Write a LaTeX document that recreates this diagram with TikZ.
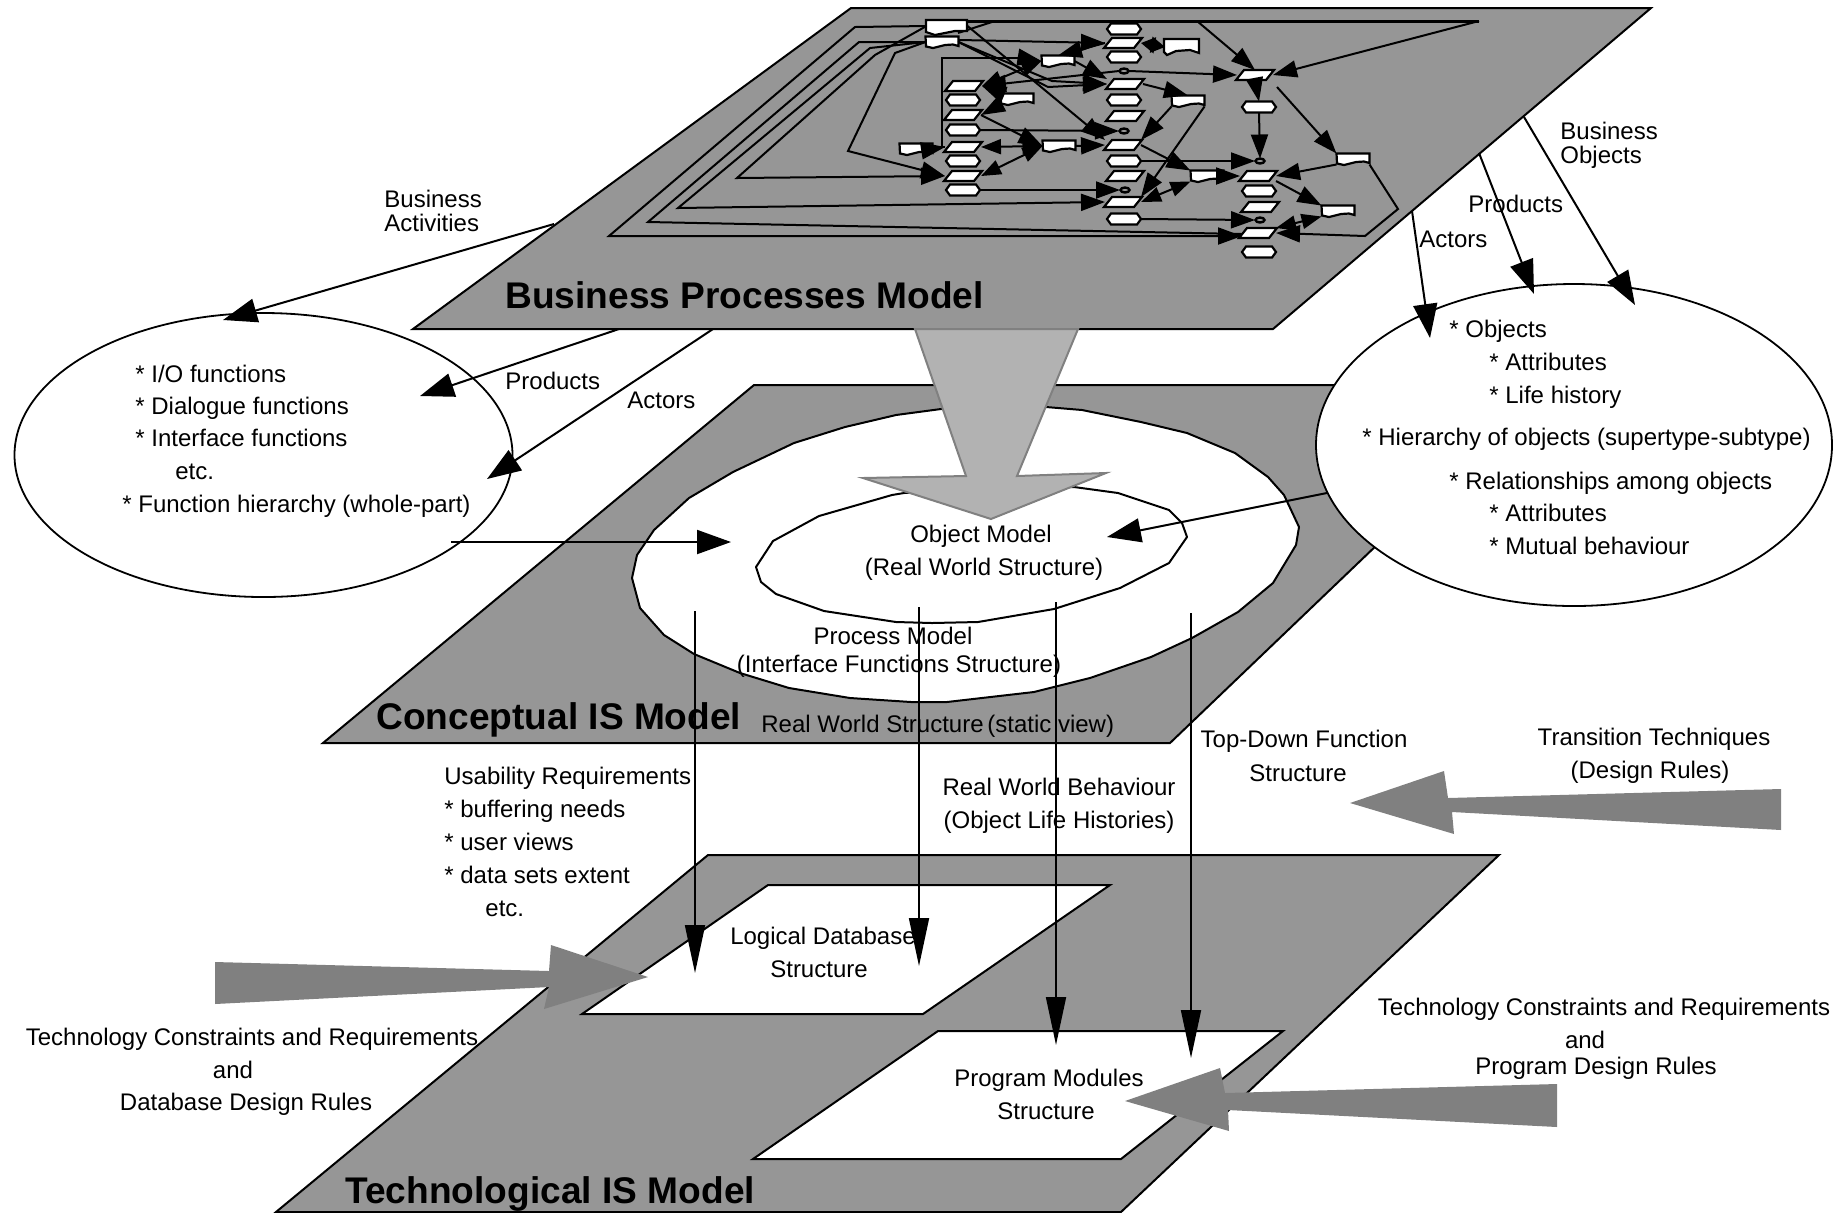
\documentclass[tikz,border=0pt]{standalone}
\usepackage{fontspec}
\setmainfont{Liberation Sans}
\usetikzlibrary{arrows.meta,shapes.geometric}
\definecolor{planegray}{HTML}{969696}
\definecolor{bigfill}{HTML}{B2B2B2}
\definecolor{bigline}{HTML}{808080}
\definecolor{pointer}{HTML}{808080}
\tikzset{
  plane/.style={draw=black,line width=1pt,fill=planegray},
  whitearea/.style={draw=black,line width=1pt,fill=white},
  jag/.style={draw=black,line width=1pt,fill=white,line join=round},
  oval/.style={ellipse,draw=black,line width=.9pt,fill=white,inner sep=0pt},
  anchorbox/.style={inner sep=0pt,outer sep=0pt,rectangle},
  flowshape/.style={draw=black,line width=1.1pt,fill=white},
  flow/.style={draw=black,line width=1pt,-{Triangle[length=12pt,width=8.5pt]}},
  flowb/.style={draw=black,line width=1pt,{Triangle[length=10pt,width=7.5pt]}-{Triangle[length=10pt,width=7.5pt]}},
  flows/.style={draw=black,line width=1pt,{Triangle[length=7pt,width=8pt]}-{Triangle[length=7pt,width=8pt]}},
  link/.style={draw=black,line width=1pt},
  toprail/.style={draw=black,line width=1.5pt},
  note/.style={draw=black,line width=1pt,-{Triangle[length=17pt,width=12pt]}},
  drop/.style={draw=black,line width=.9pt,-{Triangle[length=24pt,width=10pt]}},
  pointerarrow/.style={fill=pointer,draw=none},
  txt/.style={inner sep=0pt,text height=8.6pt,text depth=0pt,font=\fontsize{12}{14}\selectfont},
  ltxt/.style={txt,anchor=west},
  title/.style={inner sep=0pt,anchor=west,font=\fontsize{18.55}{20}\selectfont\bfseries},
}
\newcommand\fnH[3]{\node[anchorbox,minimum width=17pt,minimum height=5.5pt] (#1) at (#2,#3) {};
  \draw[flowshape,shift={(#2,#3)}] (-17,0)--(-13,-5.5)--(13,-5.5)--(17,0)--(13,5.5)--(-13,5.5)--cycle;}
\newcommand\evP[3]{\node[anchorbox,minimum width=18pt,minimum height=5pt] (#1) at (#2,#3) {};
  \draw[flowshape,shift={(#2,#3)}] (-19,5)--(-11,-5)--(19,-5)--(11,5)--cycle;}
\newcommand\docD[3]{\node[anchorbox,minimum width=16.5pt,minimum height=5.5pt] (#1) at (#2,#3) {};
  \draw[flowshape,shift={(#2,#3)}] (-16.5,-5.5)--(16.5,-5.5)--(16.5,4)--(11,2.5)--(3,3)--(-9,6)--(-16,4.5)--cycle;}
\newcommand\dotC[3]{\node[anchorbox,minimum width=5pt,minimum height=2.5pt] (#1) at (#2,#3) {};
  \draw[draw=black,line width=1.2pt,fill=planegray,shift={(#2,#3)}] (0,0) ellipse [x radius=4.5,y radius=2.5];}
\begin{document}
\begin{tikzpicture}[x=0.5pt,y=-0.5pt]
\useasboundingbox (0,0) rectangle (1841,1212);
% Business plane
\draw[plane] (851,8) -- (1651,8) -- (1273,329) -- (413,329) -- cycle;
\coordinate (farR) at (1479,21);
\coordinate (topA) at (958,33);
% Flow connectors behind the nodes
\node[anchorbox,minimum width=20.5pt,minimum height=5.5pt] (da) at (947,26) {};
\node[anchorbox,minimum width=16.5pt,minimum height=5.5pt] (db) at (942,42) {};
\draw[flow] (da.west) -- (855,27) -- (609,236) -- (1242,236);
\draw[link] (db.west) -- (859,42) -- (648,222) -- (1242,234);
\draw[link] (topA) -- (995,21);
\draw[toprail] (948,21) -- (farR);
% flow nodes
\draw[flowshape] (926,20)--(967,20)--(967,31)--(955,31)--(935,35)--(926,32)--cycle;
\docD{db0}{942}{42}
\fnH{h1}{1124}{29} \evP{p1}{1123}{43} \fnH{h2}{1124}{57} \dotC{c1}{1124}{71}
\evP{p2}{1125}{84} \fnH{h3}{1124}{100} \evP{p3}{1125}{116} \dotC{c2}{1124}{131}
\evP{p4}{1123}{145} \fnH{h4}{1124}{161} \evP{p5}{1125}{176} \dotC{c3}{1125}{190}
\evP{p6}{1123}{202} \fnH{h5}{1124}{219}
\evP{q1}{1255}{75} \fnH{k1}{1259}{107} \dotC{c4}{1260}{161} \evP{q2}{1258}{176}
\fnH{k2}{1259}{191} \evP{q3}{1260}{207} \dotC{c5}{1260}{220} \evP{q4}{1258}{233} \fnH{k3}{1259}{252}
\evP{m1}{964}{86} \fnH{n1}{963}{100} \evP{m2}{963}{115} \fnH{n2}{963}{130}
\evP{m3}{963}{147} \fnH{n3}{963}{161} \evP{m4}{963}{176} \fnH{n4}{963}{190}
\docD{dc}{1058}{61} \docD{dd}{1188}{101} \docD{de}{1059}{146} \docD{df}{1207}{176}
\docD{dg}{1353}{159} \docD{dh}{1338}{211} \docD{di}{1017}{99} \docD{dj}{916}{149}
\node[anchorbox,minimum width=17pt,minimum height=8pt] (dk) at (1182,47) {};
\draw[flowshape] (1164,39)--(1199,39)--(1199,53)--(1190,50)--(1176,51)--(1167,55)--(1164,52)--cycle;
% flow connectors
\draw[flow] (db.west) -- (870,48) -- (678,208) -- (p6.west);
\draw[flow] (da.west) -- (875,55) -- (737,178) -- (m4.west);
\draw[flow] (db.west) -- (895,53) -- (848,151) -- (m4.west);
\draw[link] (m3.west) -- (942,147) -- (942,58) -- (1023,58);
\draw[flow] (1023,58) -- (dc.west);
\draw[flow] (dj.east) -- (m3.west);
\draw[flow] (1197,21) -- (q1.north);
\draw[flow] (farR) -- (q1.east);
\draw[flow] (da.east) -- (p4.north west);
\draw[flow] (db.east) -- (960,40) -- (p1.west);
\draw[flow] (db.east) -- (1052,81) -- (p2.west);
\draw[flow] (db.east) -- (1048,87) -- (p2.west);
\draw[flows] (p1.east) -- (dk.west);
\draw[flowb] (m1.east) -- (dc.west);
\draw[flow] (p1.west) -- (dc.north);
\draw[flow] (dc.east) -- (p2.north west);
\draw[flow] (c1.west) -- (m1.east);
\draw[flow] (c1.east) -- (q1.west);
\draw[flow] (di.north west) -- (m1.east);
\draw[flow] (di.south west) -- (m2.east);
\draw[flow] (m2.east) -- (de.west);
\draw[flow] (n2.east) -- (c2.west);
\draw[flowb] (m3.east) -- (de.west);
\draw[flowb] (m4.east) -- (de.west);
\draw[flow] (n4.east) -- (c3.west);
\draw[flow] (de.east) -- (p4.west);
\draw[flow] (p4.east) -- (df.north west);
\draw[flow] (dd.south west) -- (p4.north east);
\draw[flow] (dd.south east) -- (p6.north east);
\draw[flow] (p2.east) -- (dd.north);
\draw[flowb] (p6.east) -- (df.south west);
\draw[flow] (df.east) -- (q2.west);
\draw[flow] (h4.east) -- (c4.west);
\draw[flow] (h5.east) -- (c5.west);
\draw[flow] (1255,81) -- (k1.north);
\draw[flow] (k1.south) -- (c4.north);
\draw[flow] (1277,87) -- (dg.north west);
\draw[flow] (dg.south west) -- (q2.east);
\draw[flow] (dg.south east) -- (1398,209) -- (1365,236) -- (q4.east);
\draw[flow] (q2.south east) -- (dh.north west);
\draw[flowb] (dh.south west) -- (q4.north east);
% Conceptual plane
\draw[plane] (754,385) -- (1544,385) -- (1170,743) -- (323,743) -- cycle;
% Process and object model outlines
\draw[jag] (941,409)--(896,415)--(845,427)--(794,443)--(733,472)--(689,498)--(654,530)--(637,555)--(632,578)--(640,608)--(664,635)--(694,654)--(740,673)--(789,688)--(850,698)--(911,702)--(947,702)--(1034,692)--(1090,678)--(1151,657)--(1192,638)--(1238,612)--(1273,583)--(1296,545)--(1299,527)--(1284,495)--(1268,477)--(1235,453)--(1187,433)--(1141,422)--(1082,410)--(1046,407)--cycle;
\draw[jag] (904,493)--(892,495)--(819,516)--(773,541)--(756,567)--(761,582)--(776,594)--(824,611)--(896,622)--(932,623)--(978,622)--(1054,609)--(1120,588)--(1169,563)--(1187,537)--(1182,523)--(1169,510)--(1118,493)--(1074,487)--cycle;
% Technological plane
\draw[plane] (708,855) -- (1499,855) -- (1121,1212) -- (276,1212) -- cycle;
\draw[whitearea] (768,885) -- (1110,885) -- (923,1014) -- (582,1014) -- cycle;
\draw[whitearea] (938,1031) -- (1283,1031) -- (1121,1159) -- (753,1159) -- cycle;
% Big arrow
\draw[draw=bigline,line width=1pt,fill=bigfill] (915,329) -- (1078,329) -- (1017,476) -- (1106,473) -- (991,519) -- (863,478) -- (966,476) -- cycle;
% Ovals
\node[oval,minimum width=249pt,minimum height=142pt] (leftoval) at (263.5,455) {};
\node[oval,minimum width=258pt,minimum height=161pt] (rightoval) at (1574,445) {};
% Note arrows
\coordinate (baS) at (554,224); \coordinate (baE) at (223,320);
\coordinate (prS) at (619,329); \coordinate (prE) at (420,396);
\coordinate (acS) at (713,329); \coordinate (acE) at (487,479);
\coordinate (loS) at (451,542); \coordinate (loE) at (731,542);
\coordinate (raS) at (1412,211); \coordinate (raE) at (1430,338);
\coordinate (rpS) at (1479,153); \coordinate (rpE) at (1534,294);
\coordinate (roS) at (1524,117); \coordinate (roE) at (1635,305);
\coordinate (omS) at (1327,493); \coordinate (omE) at (1107,537);
\draw[note] (baS) -- (baE);
\draw[note] (prS) -- (prE);
\draw[note] (acS) -- (acE);
\draw[note] (loS) -- (loE);
\draw[note] (raS) -- (raE);
\draw[note] (rpS) -- (rpE);
\draw[note] (roS) -- (roE);
\draw[note] (omS) -- (omE);
% Grey pointers
\fill[pointerarrow] (215,962) -- (549,971) -- (551,945) -- (648,977) -- (544,1009) -- (549,987) -- (215,1004) -- cycle;
\fill[pointerarrow] (1125,1101) -- (1220,1068) -- (1225,1093) -- (1557,1084) -- (1557,1127) -- (1228,1110) -- (1229,1131) -- cycle;
\fill[pointerarrow] (1350,803) -- (1444,771) -- (1448,798) -- (1781,789) -- (1781,830) -- (1452,812) -- (1454,834) -- cycle;
% Drop arrows
\coordinate (d1S) at (695,611); \coordinate (d1E) at (695,973);
\coordinate (d2S) at (919,607); \coordinate (d2E) at (919,966);
\coordinate (d3S) at (1056,602); \coordinate (d3E) at (1056,1045);
\coordinate (d4S) at (1191,613); \coordinate (d4E) at (1191,1058);
\draw[drop] (d1S) -- (d1E);
\draw[drop] (d2S) -- (d2E);
\draw[drop] (d3S) -- (d3E);
\draw[drop] (d4S) -- (d4E);
% Titles
\node[title] (t1) at (505,295) {Business Processes Model};
\node[title] (t2) at (376,720) {Conceptual IS Model};
\node[title] (t3) at (345,1194) {Technological IS Model};
% Left oval text
\node[ltxt] (l1) at (135,374) {* I/O functions};
\node[ltxt] (l2) at (135,406) {* Dialogue functions};
\node[ltxt] (l3) at (135,438) {* Interface functions};
\node[ltxt] (l4) at (175,471) {etc.};
\node[ltxt] (l5) at (122,504) {* Function hierarchy (whole-part)};
\node[ltxt] (a1) at (384,199) {Business};
\node[ltxt] (a2) at (384,223) {Activities};
\node[ltxt] (a3) at (505,381) {Products};
\node[ltxt] (a4) at (627,400) {Actors};
% Right oval text
\node[ltxt] (r1) at (1449,329) {* Objects};
\node[ltxt] (r2) at (1489,362) {* Attributes};
\node[ltxt] (r3) at (1489,395) {* Life history};
\node[ltxt] (r4) at (1362,437) {* Hierarchy of objects (supertype-subtype)};
\node[ltxt] (r5) at (1449,481) {* Relationships among objects};
\node[ltxt] (r6) at (1489,513) {* Attributes};
\node[ltxt] (r7) at (1489,546) {* Mutual behaviour};
\node[ltxt] (b1) at (1560,131) {Business};
\node[ltxt] (b2) at (1560,155) {Objects};
\node[ltxt] (b3) at (1468,204) {Products};
\node[ltxt] (b4) at (1419,239) {Actors};
% Centre text
\node[txt] (o1) at (981,534) {Object Model};
\node[txt] (o2) at (984,567) {(Real World Structure)};
\node[txt] (o3) at (893,636) {Process Model};
\node[txt] (o4) at (899,664) {(Interface Functions Structure)};
\node[ltxt] (o5) at (761,724) {Real World Structure};
\node[ltxt] (o6) at (987,724) {(static view)};
\node[ltxt] (u1) at (444,776) {Usability Requirements};
\node[ltxt] (u2) at (444,809) {* buffering needs};
\node[ltxt] (u3) at (444,842) {* user views};
\node[ltxt] (u4) at (444,875) {* data sets extent};
\node[ltxt] (u5) at (485,908) {etc.};
\node[txt] (w1) at (1059,787) {Real World Behaviour};
\node[txt] (w2) at (1059,820) {(Object Life Histories)};
\node[txt] (f1) at (1304,739) {Top-Down Function};
\node[txt] (f2) at (1298,773) {Structure};
\node[txt] (e1) at (1654,737) {Transition Techniques};
\node[txt] (e2) at (1650,770) {(Design Rules)};
\node[txt] (g1) at (823,936) {Logical Database};
\node[txt] (g2) at (819,969) {Structure};
\node[txt] (g3) at (1049,1078) {Program Modules};
\node[txt] (g4) at (1046,1111) {Structure};
\node[txt] (x1) at (252,1037) {Technology Constraints and Requirements};
\node[txt] (x2) at (233,1070) {and};
\node[txt] (x3) at (246,1102) {Database Design Rules};
\node[txt] (y1) at (1604,1007) {Technology Constraints and Requirements};
\node[txt] (y2) at (1585,1040) {and};
\node[txt] (y3) at (1596,1066) {Program Design Rules};
\end{tikzpicture}
\end{document}
